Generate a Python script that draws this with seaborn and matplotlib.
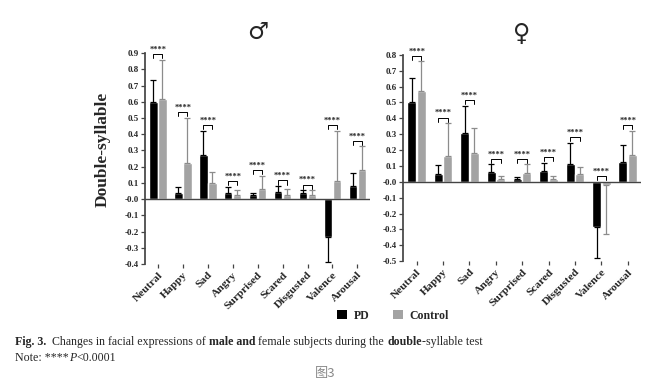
import matplotlib
matplotlib.use("Agg")
import matplotlib.pyplot as plt
import matplotlib.patches as mpatches
import numpy as np
import pandas as pd
import seaborn as sns

# --- data ---
emotions = ["Neutral", "Happy", "Sad", "Angry", "Surprised", "Scared",
            "Disgusted", "Valence", "Arousal"]
groups = ["PD", "Control"]

male_pd_mean = [0.60, 0.04, 0.27, 0.04, 0.025, 0.045, 0.035, -0.235, 0.08]
male_pd_sd = [0.135, 0.035, 0.15, 0.035, 0.015, 0.035, 0.02, 0.155, 0.08]
male_ctrl_mean = [0.615, 0.22, 0.10, 0.025, 0.065, 0.025, 0.025, 0.11, 0.18]
male_ctrl_sd = [0.245, 0.28, 0.07, 0.03, 0.08, 0.035, 0.03, 0.31, 0.145]

female_pd_mean = [0.50, 0.05, 0.31, 0.06, 0.015, 0.07, 0.115, -0.285, 0.125]
female_pd_sd = [0.155, 0.055, 0.17, 0.05, 0.015, 0.05, 0.13, 0.195, 0.105]
female_ctrl_mean = [0.575, 0.165, 0.18, 0.015, 0.055, 0.015, 0.05, -0.02, 0.17]
female_ctrl_sd = [0.185, 0.205, 0.16, 0.02, 0.055, 0.02, 0.045, 0.31, 0.15]

male_yticks = np.round(np.arange(-0.4, 0.91, 0.1), 1)
female_yticks = np.round(np.arange(-0.5, 0.81, 0.1), 1)

colors = {"PD": "#000000", "Control": "#a3a3a3"}
err_colors = {"PD": "#000000", "Control": "#8c8c8c"}
SERIF = "Liberation Serif"


def long_frame(pd_mean, ctrl_mean):
    return pd.DataFrame({
        "emotion": emotions * 2,
        "group": ["PD"] * len(emotions) + ["Control"] * len(emotions),
        "value": list(pd_mean) + list(ctrl_mean),
    })


def draw_panel(ax, pd_mean, pd_sd, ctrl_mean, ctrl_sd, yticks, title):
    df = long_frame(pd_mean, ctrl_mean)
    sns.barplot(data=df, x="emotion", y="value", hue="group", hue_order=groups,
                palette=colors, errorbar=None, width=0.72, gap=0.05,
                ax=ax, legend=False, saturation=1)

    tops = np.zeros(len(emotions))
    centers = []
    for cont, grp, sd in zip(ax.containers, groups, [pd_sd, ctrl_sd]):
        xs = np.array([b.get_x() + b.get_width() / 2 for b in cont])
        hs = np.array([b.get_height() for b in cont])
        sd = np.array(sd)
        lower = np.where(hs < 0, sd, 0)
        upper = np.where(hs >= 0, sd, 0)
        ax.errorbar(xs, hs, yerr=[lower, upper], fmt="none",
                    ecolor=err_colors[grp], elinewidth=0.9, capsize=2.4,
                    capthick=0.9, zorder=1)
        tops = np.maximum(tops, np.where(hs >= 0, hs + sd, 0))
        centers.append(xs)

    # significance brackets
    for i in range(len(emotions)):
        x0, x1 = centers[0][i], centers[1][i]
        yb = tops[i] + 0.035
        ax.plot([x0, x0, x1, x1], [yb - 0.025, yb, yb, yb - 0.025],
                color="black", lw=0.7, clip_on=False)
        ax.text((x0 + x1) / 2, yb + 0.002, "****", ha="center", va="bottom",
                fontsize=6, fontweight="bold", family=SERIF, clip_on=False)

    ax.set_ylim(yticks[0], yticks[-1])
    ax.set_xlim(-0.52, 8.5)
    ax.set_yticks(yticks)
    ax.set_yticklabels([f"{t:.1f}" for t in yticks], fontsize=6.5,
                       fontweight="bold", family=SERIF)
    ax.set_xticks(range(len(emotions)))
    ax.set_xticklabels(emotions, rotation=45, ha="right",
                       rotation_mode="anchor", fontsize=8.2,
                       fontweight="bold", family=SERIF)
    ax.axhline(0, color="#444444", lw=1.0, zorder=3)
    ax.set_xlabel("")
    ax.set_ylabel("")
    sns.despine(ax=ax, bottom=True)
    ax.spines["left"].set_color("#444444")
    ax.tick_params(axis="both", length=3, width=0.9, color="#444444", pad=1.5)
    ax.set_title(title, fontsize=17, fontweight="bold", family="DejaVu Sans",
                 pad=10)


sns.set_theme(style="ticks")
plt.rcParams["font.family"] = [SERIF, "DejaVu Sans"]

fig = plt.figure(figsize=(6.5, 3.84), dpi=100)
ax_m = fig.add_axes([0.223, 0.3125, 0.346, 0.549])
ax_f = fig.add_axes([0.620, 0.320, 0.366, 0.537])

draw_panel(ax_m, male_pd_mean, male_pd_sd, male_ctrl_mean, male_ctrl_sd,
           male_yticks, "\u2642")
draw_panel(ax_f, female_pd_mean, female_pd_sd, female_ctrl_mean, female_ctrl_sd,
           female_yticks, "\u2640")

fig.text(0.158, 0.61, "Double-syllable", rotation=90, ha="center", va="center",
         fontsize=12.5, fontweight="bold", family=SERIF)

handles = [mpatches.Patch(facecolor=colors[g], edgecolor="none", label=g)
           for g in groups]
fig.legend(handles=handles, loc="center", bbox_to_anchor=(0.605, 0.178),
           ncol=2, frameon=False, handlelength=0.8, handleheight=0.8,
           handletextpad=0.6, columnspacing=2.0,
           prop={"family": SERIF, "weight": "bold", "size": 8.5})

# caption
pieces = [("Fig. 3.", "bold"), ("  Changes in facial expressions of ", "normal"),
          ("male and", "bold"), (" female subjects during the ", "normal"),
          ("double", "bold"), ("-syllable test", "normal")]
prev = fig.text(0.023, 1 - 345 / 384, pieces[0][0], fontsize=8.6,
                fontweight=pieces[0][1], family=SERIF, va="baseline")
for txt, w in pieces[1:]:
    prev = ax_f.annotate(txt, xy=(1, 0), xycoords=prev, va="bottom", ha="left",
                         fontsize=8.6, fontweight=w, family=SERIF,
                         annotation_clip=False)

note = fig.text(0.023, 1 - 361 / 384, "Note: ****", fontsize=8.6, family=SERIF)
p = ax_f.annotate("P", xy=(1, 0), xycoords=note, va="bottom", fontsize=8.6,
                  style="italic", family=SERIF, annotation_clip=False)
ax_f.annotate("<0.0001", xy=(1, 0), xycoords=p, va="bottom", fontsize=8.6,
              family=SERIF, annotation_clip=False)

fig.text(0.5, 1 - 373 / 384, "图3", ha="center", va="center", fontsize=9.5,
         color="#8a8a8a", family=["Noto Sans CJK SC", "DejaVu Sans"])

fig.savefig("out.png", dpi=100, facecolor="white")
plt.close(fig)
